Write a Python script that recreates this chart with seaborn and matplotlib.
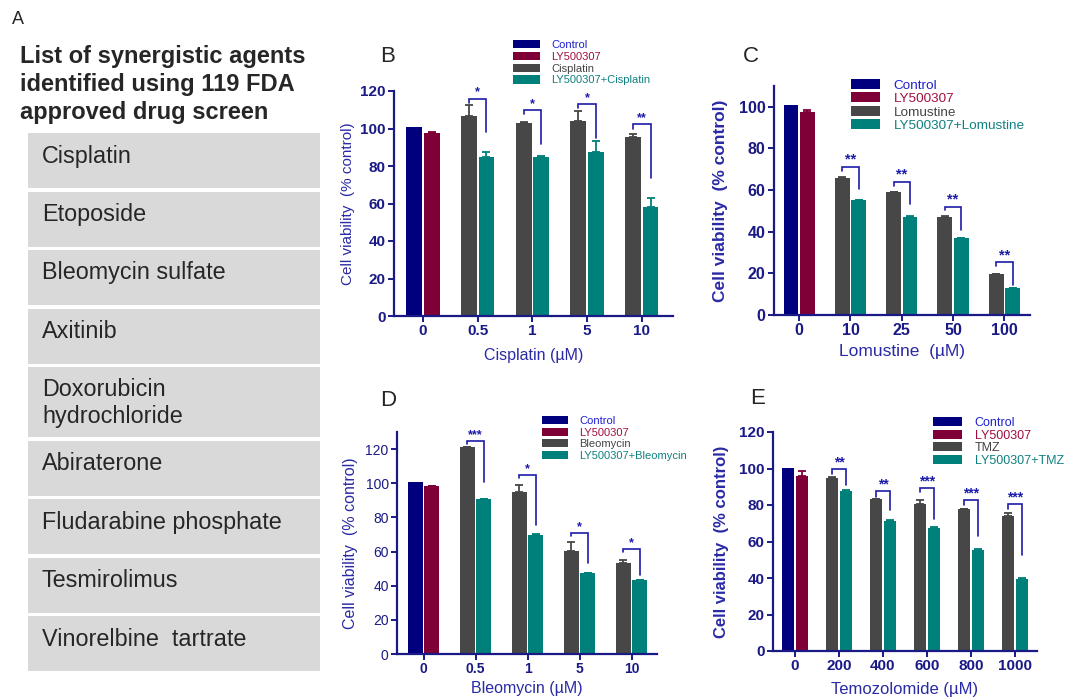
import matplotlib
matplotlib.use("Agg")
import matplotlib.pyplot as plt
from matplotlib.patches import Patch, Rectangle
import numpy as np
import pandas as pd
import seaborn as sns

# ---------------- data ----------------
title_lines = ["List of synergistic agents", "identified using 119 FDA", "approved drug screen"]
agents = ["Cisplatin", "Etoposide", "Bleomycin sulfate", "Axitinib",
          "Doxorubicin\nhydrochloride", "Abiraterone", "Fludarabine phosphate",
          "Tesmirolimus", "Vinorelbine  tartrate"]

# B - cisplatin
cis_doses = ["0", "0.5", "1", "5", "10"]
cis_control = 101.0
cis_ly, cis_ly_err = 97.4, 0.6
cis_drug = [106.7, 102.8, 104.2, 95.5]
cis_drug_err = [5.8, 0.5, 5.1, 1.4]
cis_combo = [85.0, 85.0, 87.6, 58.0]
cis_combo_err = [2.5, 0.5, 5.9, 4.8]
cis_stars = ["*", "*", "*", "**"]
cis_br_top = [116.0, 110.0, 113.0, 102.2]
cis_br_left = [113.8, 107.7, 110.8, 100.0]
cis_br_right = [98.3, 92.0, 94.8, 73.4]

# C - lomustine
lom_doses = ["0", "10", "25", "50", "100"]
lom_control = 101.0
lom_ly, lom_ly_err = 97.4, 1.3
lom_drug = [65.7, 59.0, 47.1, 19.6]
lom_drug_err = [0.4, 0.0, 0.3, 0.3]
lom_combo = [55.4, 47.3, 36.9, 12.8]
lom_combo_err = [0.0, 0.4, 0.0, 0.0]
lom_stars = ["**", "**", "**", "**"]
lom_br_top = [71.2, 64.0, 52.0, 25.3]
lom_br_left = [69.0, 62.2, 50.2, 23.7]
lom_br_right = [60.7, 53.5, 41.0, 14.6]

# D - bleomycin
bleo_doses = ["0", "0.5", "1", "5", "10"]
bleo_control = 100.9
bleo_ly, bleo_ly_err = 98.3, 0.2
bleo_drug = [121.0, 94.8, 60.3, 53.3]
bleo_drug_err = [0.0, 4.2, 5.1, 1.7]
bleo_combo = [90.5, 69.7, 47.4, 43.1]
bleo_combo_err = [0.4, 0.3, 0.0, 0.3]
bleo_stars = ["***", "*", "*", "*"]
bleo_br_top = [124.9, 105.0, 70.6, 61.5]
bleo_br_left = [123.0, 103.0, 68.9, 60.0]
bleo_br_right = [101.0, 75.7, 53.3, 46.4]

# E - temozolomide
tmz_doses = ["0", "200", "400", "600", "800", "1000"]
tmz_control = 100.5
tmz_ly, tmz_ly_err = 95.7, 2.9
tmz_drug = [94.8, 83.3, 80.7, 77.6, 74.2]
tmz_drug_err = [0.3, 0.0, 2.2, 0.0, 1.6]
tmz_combo = [87.7, 71.2, 67.4, 55.5, 39.6]
tmz_combo_err = [0.3, 0.5, 0.4, 0.2, 0.2]
tmz_stars = ["**", "**", "***", "***", "***"]
tmz_br_top = [99.7, 87.5, 89.3, 82.6, 80.4]
tmz_br_left = [96.8, 84.4, 86.9, 79.8, 78.0]
tmz_br_right = [90.8, 77.0, 72.1, 62.8, 52.4]

# ---------------- style ----------------
W, H = 1075, 697
C_CONTROL = "#00007f"
C_LY = "#7f0037"
C_DRUG = "#474747"
C_COMBO = "#00807a"
NAVY = "#1a1a86"
LBL = "#2a2aa6"
TXT_COLORS = ["#2020d0", "#a0103f", "#444444", "#108080"]

sns.set_theme(style="ticks")
plt.rcParams["font.family"] = ["Liberation Sans", "DejaVu Sans"]

fig = plt.figure(figsize=(W / 100, H / 100), dpi=100)


def px_rect(x0, y0, x1, y1):
    return [x0 / W, 1 - y1 / H, (x1 - x0) / W, (y1 - y0) / H]


# ---------------- panel A ----------------
axA = fig.add_axes([0, 0, 335 / W, 1])
axA.set_xlim(0, 335)
axA.set_ylim(H, 0)
axA.axis("off")
fig.text(12 / W, 1 - 19 / H, "A", fontsize=13, va="center", ha="left")
for i, line in enumerate(title_lines):
    axA.text(20, 56 + i * 28.5, line, fontsize=17, fontweight="bold", va="center", ha="left")
top = 133.0
for name in agents:
    h = 70 if "\n" in name else 55
    axA.add_patch(Rectangle((28, top), 292, h, facecolor="#d9d9d9", edgecolor="none"))
    for j, part in enumerate(name.split("\n")):
        axA.text(42, top + 23 + j * 27, part, fontsize=16.8, color="#262626", va="center", ha="left")
    top += h + 3.5


# ---------------- bar panels ----------------
def bar_panel(rect, doses, drug_name, control, ly, ly_err, drug, drug_err, combo, combo_err,
              stars, br_top, br_left, br_right, xlim, ylim, yticks, ylabel, xlabel,
              bold_y, ylab_size, tick_size, xlab_size, legend_pos, legend_size, star_size,
              ylabpad, xlabpad):
    ax = fig.add_axes(px_rect(*rect))
    rows = [(doses[0], "left", control), (doses[0], "right", ly)]
    for d, v1, v2 in zip(doses[1:], drug, combo):
        rows.append((d, "left", v1))
        rows.append((d, "right", v2))
    df = pd.DataFrame(rows, columns=["dose", "slot", "value"])
    sns.barplot(data=df, x="dose", y="value", hue="slot", order=doses,
                hue_order=["left", "right"], width=0.64, gap=0.1, errorbar=None,
                saturation=1, legend=False, ax=ax, linewidth=0)
    left_bars, right_bars = ax.containers[0], ax.containers[1]
    lefts_err = [0.0] + list(drug_err)
    rights_err = [ly_err] + list(combo_err)
    centers_l, centers_r = [], []
    for k, (bl, br) in enumerate(zip(left_bars, right_bars)):
        cl = C_CONTROL if k == 0 else C_DRUG
        cr = C_LY if k == 0 else C_COMBO
        bl.set_facecolor(cl)
        br.set_facecolor(cr)
        xl = bl.get_x() + bl.get_width() / 2
        xr = br.get_x() + br.get_width() / 2
        centers_l.append(xl)
        centers_r.append(xr)
        if k > 0:
            ax.errorbar(xl, bl.get_height(), yerr=[[0], [lefts_err[k]]], fmt="none",
                        ecolor=cl, elinewidth=1.3, capsize=3, capthick=1.3)
        ax.errorbar(xr, br.get_height(), yerr=[[0], [rights_err[k]]], fmt="none",
                    ecolor=cr, elinewidth=1.3, capsize=3, capthick=1.3)
    # significance brackets
    for k in range(len(stars)):
        xl, xr = centers_l[k + 1], centers_r[k + 1]
        ax.plot([xl, xl, xr, xr], [br_left[k], br_top[k], br_top[k], br_right[k]],
                color="#1c1ca8", lw=1.2, solid_joinstyle="miter")
        ax.text((xl + xr) / 2, br_top[k], stars[k], ha="center", va="bottom",
                fontsize=star_size, color="#1c1ca8", fontweight="bold")
    ax.set_xlim(*xlim)
    ax.set_ylim(*ylim)
    ax.set_yticks(yticks)
    sns.despine(ax=ax)
    for s in ["left", "bottom"]:
        ax.spines[s].set_color(NAVY)
        ax.spines[s].set_linewidth(1.6)
    ax.tick_params(colors=NAVY, length=4, width=1.4, labelsize=tick_size, pad=2)
    for lbl in ax.get_xticklabels() + ax.get_yticklabels():
        lbl.set_color(NAVY)
        lbl.set_fontweight("bold")
    if not bold_y:
        for lbl in ax.get_yticklabels():
            lbl.set_fontweight("normal")
    ax.set_ylabel(ylabel, fontsize=ylab_size, color=LBL,
                  fontweight="bold" if bold_y else "normal", labelpad=ylabpad)
    ax.set_xlabel(xlabel, fontsize=xlab_size, color=LBL, labelpad=xlabpad)
    ax.grid(False)
    ax.set_facecolor("white")
    handles = [Patch(facecolor=c, edgecolor="none") for c in [C_CONTROL, C_LY, C_DRUG, C_COMBO]]
    labels = ["Control", "LY500307", drug_name, "LY500307+" + drug_name]
    fs_px = legend_size * 100 / 72
    ax.legend(handles, labels, loc="upper left",
              bbox_to_anchor=(legend_pos[0] / W, 1 - legend_pos[1] / H),
              bbox_transform=fig.transFigure, frameon=False, fontsize=legend_size,
              handlelength=legend_pos[2] / fs_px, handleheight=0.75,
              handletextpad=1.0, labelspacing=legend_pos[3], borderpad=0,
              borderaxespad=0, labelcolor=TXT_COLORS)
    return ax


yl = "Cell viability  (% control)"

axB = bar_panel((394, 91, 673, 316), cis_doses, "Cisplatin", cis_control, cis_ly, cis_ly_err,
                cis_drug, cis_drug_err, cis_combo, cis_combo_err, cis_stars,
                cis_br_top, cis_br_left, cis_br_right, (-0.53, 4.57), (0, 120),
                np.arange(0, 121, 20), yl, "Cisplatin (\u00b5M)", False, 11, 11, 11.5,
                (513, 40, 27, 0.16), 8, 9, 4, 7)
for lbl in axB.get_yticklabels():
    lbl.set_fontweight("bold")

axC = bar_panel((774, 86, 1030, 315), lom_doses, "Lomustine", lom_control, lom_ly, lom_ly_err,
                lom_drug, lom_drug_err, lom_combo, lom_combo_err, lom_stars,
                lom_br_top, lom_br_left, lom_br_right, (-0.49, 4.5), (0, 110),
                np.arange(0, 101, 20), yl, "Lomustine  (\u00b5M)", True, 12.5, 11.5, 12.5,
                (851, 79, 29, 0.06), 9.7, 10.5, 8, 4)

axD = bar_panel((397, 432, 657, 654), bleo_doses, "Bleomycin", bleo_control, bleo_ly, bleo_ly_err,
                bleo_drug, bleo_drug_err, bleo_combo, bleo_combo_err, bleo_stars,
                bleo_br_top, bleo_br_left, bleo_br_right, (-0.51, 4.49), (0, 130),
                np.arange(0, 121, 20), yl, "Bleomycin (\u00b5M)", False, 11.5, 10, 11.5,
                (542, 416, 26, 0.14), 8, 9, 5, 3)

axE = bar_panel((773, 432, 1037, 651), tmz_doses, "TMZ", tmz_control, tmz_ly, tmz_ly_err,
                tmz_drug, tmz_drug_err, tmz_combo, tmz_combo_err, tmz_stars,
                tmz_br_top, tmz_br_left, tmz_br_right, (-0.5, 5.5), (0, 120),
                np.arange(0, 121, 20), yl, "Temozolomide (\u00b5M)", True, 12, 11, 12,
                (933, 417, 29, 0.05), 9, 10, 7, 6)

for letter, (x, y) in zip("BCDE", [(380, 57), (743, 57), (380, 400), (750, 398)]):
    fig.text(x / W, 1 - y / H, letter, fontsize=16, va="center", ha="left")

fig.savefig("out.png", dpi=100, facecolor="white")
